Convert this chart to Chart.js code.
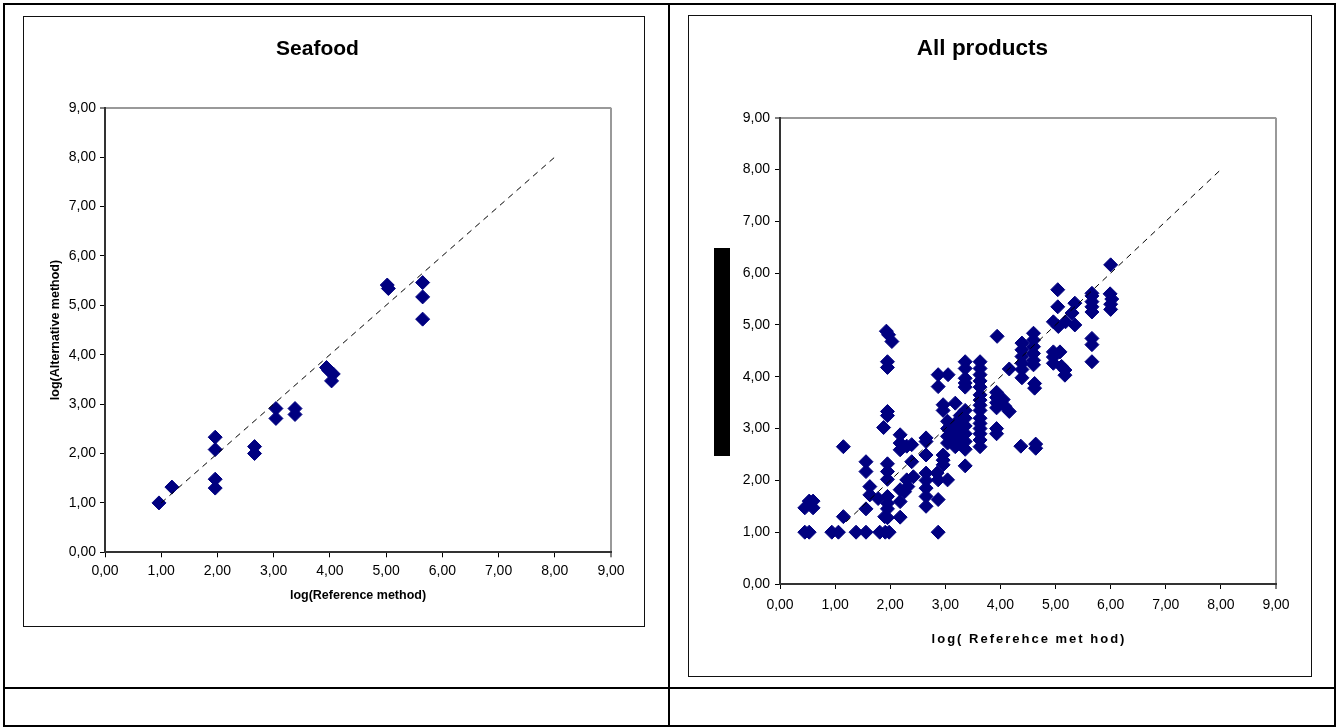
<!DOCTYPE html>
<html>
<head>
<meta charset="utf-8">
<title>Seafood / All products</title>
<script src="https://cdn.jsdelivr.net/npm/chart.js@4"></script>
<style>
  body { margin: 0; background: #fff; }
  #page { position: relative; width: 1340px; height: 727px; overflow: hidden; }
  .rule { position: absolute; background: #000; }
  .box { position: absolute; border: 1px solid #111; background: #fff; }
  .box canvas { display: block; }
  #bar { position: absolute; left: 714px; top: 248px; width: 16px; height: 208px; background: #000; }
</style>
</head>
<body>
<div id="page">
  <!-- table frame -->
  <div class="rule" style="left:3px;top:3px;width:1333px;height:2px"></div>
  <div class="rule" style="left:3px;top:725px;width:1333px;height:2px"></div>
  <div class="rule" style="left:3px;top:3px;width:2px;height:724px"></div>
  <div class="rule" style="left:1334px;top:3px;width:2px;height:724px"></div>
  <div class="rule" style="left:668px;top:3px;width:2px;height:724px"></div>
  <div class="rule" style="left:3px;top:687px;width:1333px;height:2px"></div>

  <div class="box" style="left:23px;top:16px"><canvas id="chart_seafood" width="620" height="609"></canvas></div>
  <div class="box" style="left:688px;top:15px"><canvas id="chart_all" width="622" height="660"></canvas></div>
  <div id="bar"></div>
</div>
<script>
// Data (log values)

const axis_ticks = [0, 1, 2, 3, 4, 5, 6, 7, 8, 9]

// Seafood
const seafood_ref = [0.96, 1.19, 1.96, 1.96, 1.96, 1.96, 2.66, 2.66, 3.04, 3.04, 3.38, 3.38,
    3.94, 3.98, 4.06, 4.03, 5.02, 5.04, 5.65, 5.65, 5.65]
const seafood_alt = [1.00, 1.32, 2.33, 2.08, 1.48, 1.30, 2.14, 2.00, 2.91, 2.71, 2.91, 2.79,
    3.74, 3.68, 3.61, 3.47, 5.41, 5.34, 5.46, 5.17, 4.72]

// All products
const all_ref = [
    0.45, 0.53, 0.45, 0.53, 0.60, 0.60,
    0.94, 1.06, 1.15, 1.15,
    1.38, 1.56, 1.56, 1.56, 1.56, 1.63, 1.63,
    1.78, 1.81, 1.91, 1.98, 1.88, 1.95, 1.95, 1.95, 1.95, 1.93, 1.97, 2.03, 1.95, 1.95, 1.95, 1.95, 1.95, 1.95, 1.90, 1.95,
    2.18, 2.18, 2.18, 2.18, 2.18, 2.18, 2.30, 2.39, 2.39, 2.30, 2.42, 2.32, 2.26,
    2.65, 2.65, 2.65, 2.65, 2.65, 2.65, 2.65, 2.65,
    2.87, 2.87, 2.87, 2.87, 2.96, 2.96, 2.96, 2.96, 2.96, 2.85, 2.87,
    3.05, 3.04, 3.04, 3.04, 3.04, 3.04, 3.18, 3.18, 3.18, 3.18, 3.18, 3.27, 3.27, 3.27, 3.27,
    3.36, 3.36, 3.36, 3.36, 3.36, 3.36, 3.36, 3.36, 3.36, 3.36, 3.36, 3.36,
    3.63, 3.63, 3.63, 3.63, 3.63, 3.63, 3.63, 3.63, 3.63, 3.63, 3.63, 3.63, 3.63, 3.63, 3.63,
    3.94, 3.93, 3.93, 3.93, 3.93, 3.93, 3.93, 4.05, 4.08, 4.16, 4.16,
    4.37, 4.39, 4.39, 4.39, 4.39, 4.39, 4.39, 4.60, 4.60, 4.60, 4.60, 4.60, 4.60, 4.62, 4.62, 4.64, 4.64,
    4.96, 5.05, 5.04, 5.04, 4.96, 5.08, 4.96, 4.96, 5.11, 5.17, 5.17, 5.18,
    5.35, 5.30, 5.35,
    5.66, 5.66, 5.66, 5.66, 5.66, 5.66, 5.66, 5.66,
    6.00, 5.99, 6.02, 6.00, 6.00
]
const all_alt = [
    1.00, 1.00, 1.47, 1.60, 1.47, 1.60,
    1.00, 1.00, 1.30, 2.65,
    1.00, 1.00, 1.45, 2.17, 2.36, 1.88, 1.72,
    1.65, 1.00, 1.00, 1.00, 3.02, 3.33, 3.25, 4.29, 4.18, 4.88, 4.81, 4.68, 2.32, 2.17, 2.02, 1.69, 1.56, 1.45, 1.30, 1.28,
    2.88, 2.72, 2.59, 1.82, 1.59, 1.29, 2.66, 2.69, 2.36, 2.01, 2.07, 1.88, 1.78,
    2.82, 2.75, 2.49, 2.14, 2.00, 1.85, 1.69, 1.50,
    4.04, 3.81, 1.63, 1.00, 3.46, 3.35, 2.49, 2.39, 2.30, 2.14, 2.01,
    4.04, 2.01, 3.14, 3.00, 2.85, 2.72, 3.49, 3.10, 2.95, 2.80, 2.65, 3.25, 3.05, 2.90, 2.75,
    4.29, 4.16, 3.97, 3.88, 3.80, 3.35, 3.20, 3.05, 2.90, 2.75, 2.60, 2.28,
    4.29, 4.16, 4.04, 3.92, 3.80, 3.65, 3.55, 3.45, 3.35, 3.20, 3.10, 3.00, 2.90, 2.78, 2.65,
    4.78, 3.70, 3.60, 3.50, 3.40, 3.00, 2.90, 3.56, 3.43, 3.33, 4.15,
    2.66, 4.65, 4.52, 4.39, 4.26, 4.14, 3.98, 4.84, 4.71, 4.58, 4.45, 4.32, 4.23, 3.87, 3.78, 2.70, 2.62,
    5.06, 4.97, 5.68, 5.35, 4.48, 4.48, 4.38, 4.26, 4.20, 4.13, 4.03, 5.06,
    5.42, 5.23, 5.00,
    5.61, 5.56, 5.45, 5.35, 5.25, 4.74, 4.62, 4.29,
    6.16, 5.60, 5.50, 5.40, 5.30
]

// dashed reference line (y = x)
const seafood_diag = [1, 8]
const all_diag = [1.2, 8]

// Style
Chart.defaults.font.family = '"Liberation Sans", Arial, sans-serif'
Chart.defaults.color = '#000'

const fmt = v => v.toFixed(2).replace('.', ',')
const zip_xy = (xs, ys) => xs.map((x, i) => ({x: x, y: ys[i]}))

// letter-spaced axis title (the right chart has it spread out)
const spaced_title = {
    id: 'spaced_title',
    afterDraw(chart, args, opts) {
        if (!opts.text) return
        const {ctx, chartArea} = chart
        ctx.save()
        ctx.font = 'bold 13px "Liberation Sans", Arial, sans-serif'
        ctx.letterSpacing = opts.spacing
        ctx.fillStyle = '#000'
        ctx.textAlign = 'center'
        ctx.textBaseline = 'middle'
        ctx.fillText(opts.text, (chartArea.left + chartArea.right) / 2 + 1, chartArea.bottom + opts.offset)
        ctx.restore()
    }
}

function axis(cfg) {
    return {
        type: 'linear',
        min: 0,
        max: 9,
        afterBuildTicks: s => { s.ticks = axis_ticks.map(v => ({value: v})) },
        afterFit: s => { if (cfg.size) { if (s.isHorizontal()) s.height = cfg.size; else s.width = cfg.size } },
        ticks: {
            callback: fmt,
            font: {size: 14},
            padding: cfg.pad,
            autoSkip: false,
            maxRotation: 0
        },
        grid: {
            color: c => c.tick && c.tick.value === 9 ? '#999' : 'rgba(0,0,0,0)',
            lineWidth: c => c.tick && c.tick.value === 9 ? 2 : 1,
            tickColor: '#000',
            tickWidth: 1,
            tickLength: 5
        },
        border: {color: '#333', width: 2},
        title: cfg.title ? {
            display: true,
            text: cfg.title,
            font: {size: 12.5, weight: 'bold'},
            padding: cfg.title_pad
        } : {display: false}
    }
}

function make_chart(id, c) {
    return new Chart(document.getElementById(id), {
        type: 'scatter',
        data: {
            datasets: [
                {
                    data: zip_xy(c.diag, c.diag),
                    showLine: true,
                    borderColor: '#000',
                    borderWidth: 1,
                    borderDash: [6, 5],
                    pointRadius: 0,
                    order: 0
                },
                {
                    data: zip_xy(c.ref, c.alt),
                    pointStyle: 'rectRot',
                    pointRadius: 7,
                    backgroundColor: '#000080',
                    borderColor: '#000080',
                    borderWidth: 1,
                    order: 1
                }
            ]
        },
        options: {
            responsive: false,
            animation: false,
            layout: {padding: {left: 0, top: 0, right: c.pad_right, bottom: 0}},
            plugins: {
                legend: {display: false},
                tooltip: {enabled: false},
                title: {
                    display: true,
                    text: c.title,
                    color: '#000',
                    font: {size: c.title_size, weight: 'bold'},
                    padding: c.title_pad
                },
                spaced_title: c.spaced || {}
            },
            scales: {
                x: axis(c.x),
                y: axis(c.y)
            }
        },
        plugins: [spaced_title]
    })
}

make_chart('chart_seafood', {
    title: 'Seafood', title_size: 21, title_pad: {top: 20, bottom: 45.5},
    ref: seafood_ref, alt: seafood_alt, diag: seafood_diag,
    pad_right: 33,
    x: {size: 73.7, pad: 5, title: 'log(Reference method)', title_pad: {top: 0, bottom: 23}},
    y: {size: 81, pad: 4, title: 'log(Alternative method)', title_pad: {top: 24.5, bottom: 0}}
})

make_chart('chart_all', {
    title: 'All products', title_size: 22.5, title_pad: {top: 19, bottom: 55.7},
    ref: all_ref, alt: all_alt, diag: all_diag,
    pad_right: 35,
    x: {size: 92, pad: 8},
    y: {size: 91, pad: 5},
    spaced: {text: 'log( Referehce met hod)', spacing: '2px', offset: 55}
})
</script>
</body>
</html>
